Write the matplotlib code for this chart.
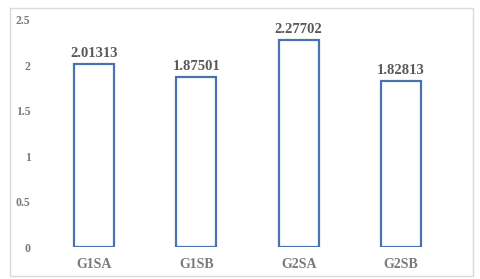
import numpy as np
import matplotlib
matplotlib.use("Agg")
import matplotlib.pyplot as plt
from matplotlib.patches import Rectangle

categories = ["G1SA", "G1SB", "G2SA", "G2SB"]
values = [2.01313, 1.87501, 2.27702, 1.82813]
yticks = [0, 0.5, 1, 1.5, 2, 2.5]
ytick_labels = ["0", "0.5", "1", "1.5", "2", "2.5"]

fig = plt.figure(figsize=(4.8, 2.79), dpi=100)
fig.patches.append(Rectangle((10 / 480, 3 / 279), 463 / 480, 268 / 279,
                             transform=fig.transFigure, fill=False,
                             edgecolor="#d9d9d9", linewidth=1.0))
ax = fig.add_axes([43 / 480, 32 / 279, 409 / 480, 227 / 279])

x = np.arange(len(categories))
ax.bar(x, values, width=0.39, facecolor="white", edgecolor="#4a72b0", linewidth=1.6)

for xi, v in zip(x, values):
    ax.text(xi, v + 0.045, "%.5f" % v, ha="center", va="bottom",
            fontsize=10.5, fontweight="bold", color="#595959", family="Liberation Serif")

ax.set_xlim(-0.5, 3.5)
ax.set_ylim(0, 2.5)
ax.set_xticks(x)
ax.set_xticklabels(categories, fontsize=10, fontweight="bold", color="#7a7a7a",
                   family="Liberation Serif")
ax.set_yticks(yticks)
ax.set_yticklabels(ytick_labels, fontsize=8.5, fontweight="bold", color="#7a7a7a",
                   family="Liberation Serif")
ax.tick_params(axis="y", length=0, pad=9)
ax.tick_params(axis="x", length=0, pad=8)
for s in ax.spines.values():
    s.set_visible(False)

fig.savefig("out.png", dpi=100)
